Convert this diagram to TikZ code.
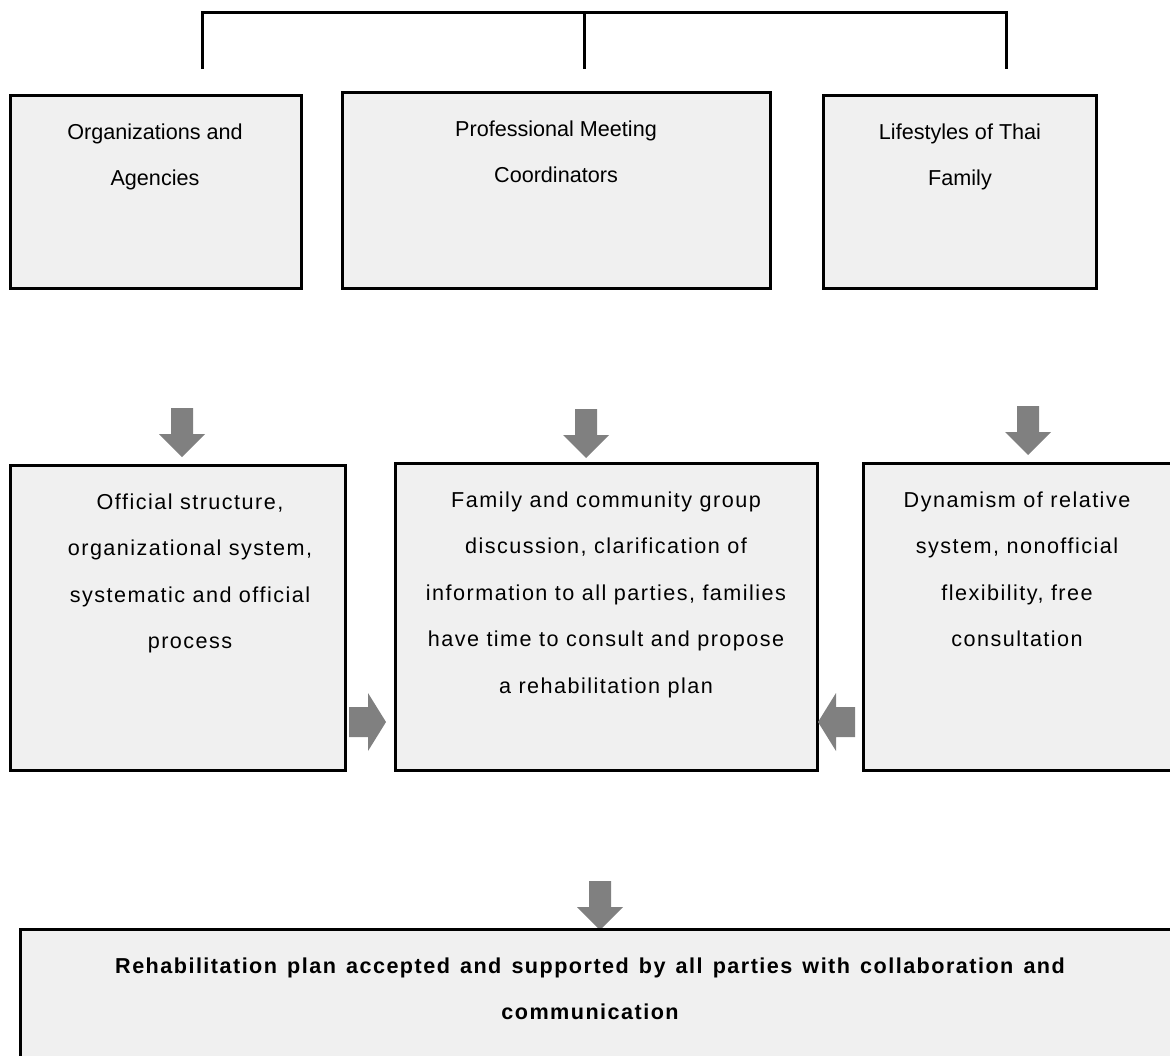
\documentclass[tikz,border=0pt]{standalone}
\usepackage{fontspec}
\setmainfont{Liberation Sans}
\newfontfamily\widefont[LetterSpace=6.8]{Liberation Sans}
\newfontfamily\widebold[LetterSpace=6.8,WordSpace=1.35]{Liberation Sans Bold}
\usepackage{tikz}
\usetikzlibrary{fit}

\definecolor{boxgray}{HTML}{F0F0F0}
\definecolor{arrowgray}{HTML}{808080}

\tikzset{
  box/.style={draw=black, line width=1.5pt, fill=boxgray, inner sep=0pt},
  boxtext/.style={anchor=base, align=center, inner sep=0pt, font=\fontsize{10.8}{23.3}\selectfont},
  widetext/.style={boxtext, font=\widefont\fontsize{10.8}{23.3}\selectfont},
  bracket/.style={line width=1.5pt},
  blockdown/.pic={\fill[arrowgray] (-11,0) -- (11,0) -- (11,26) -- (23,26) -- (0,49) -- (-23,26) -- (-11,26) -- cycle;},
  blockright/.pic={\fill[arrowgray] (0,-15) -- (19,-15) -- (19,-29) -- (37,0) -- (19,29) -- (19,15) -- (0,15) -- cycle;}
}

\begin{document}
\begin{tikzpicture}[x=0.5pt,y=-0.5pt]
          \useasboundingbox (0,0) rectangle (1170,1055);
          \coordinate (top) at (584,12);
          \coordinate (bl) at (202,69);
          \coordinate (bm) at (584,69);
          \coordinate (br) at (1006,69);
          \draw[bracket] (bl) -- (bl |- top) -- (br |- top) -- (br);
          \draw[bracket] (top) -- (bm);

          % base anchor sits on the last line
          \node[box, fit={(10,95) (301,288)}] (org) {};
          \node[box, fit={(342,92) (770,288)}] (pmc) {};
          \node[box, fit={(823,95) (1096,288)}] (thai) {};
          \node[boxtext] (orgtxt) at (155,185.6) {Organizations and\\Agencies};
          \node[boxtext] (pmctxt) at (556,182.6) {Professional Meeting\\Coordinators};
          \node[boxtext] (thaitxt) at (960,185.6) {Lifestyles of Thai\\Family};

          \pic at (182,408) {blockdown};
          \pic at (586,409) {blockdown};
          \pic at (1028,406) {blockdown};

          \node[box, fit={(10,465) (345,770)}] (offi) {};
          \node[box, fit={(395,463) (817,770)}] (fam) {};
          \node[box, fit={(863,463) (1176,770)}] (dyn) {};
          \node[widetext] (offitxt) at (190,648.8) {Official structure,\\organizational system,\\systematic and official\\process};
          \node[widetext] (famtxt) at (606,693.4) {Family and community group\\discussion, clarification of\\information to all parties, families\\have time to consult and propose\\a rehabilitation plan};
          \node[widetext] (dyntxt) at (1017,646.8) {Dynamism of relative\\system, nonofficial\\flexibility, free\\consultation};

          \pic at (349,722) {blockright};
          \pic[xscale=-1] at (855,722) {blockright};

          \pic at (600,881) {blockdown};
          \node[box, fit={(20,929) (1176,1062)}] (rehab) {};
          \node[widetext, font=\widebold\fontsize{10.8}{23.3}\selectfont] (rehabtxt) at (590,1019.6) {Rehabilitation plan accepted and supported by all parties with collaboration and\\communication};
        \end{tikzpicture}
\end{document}
